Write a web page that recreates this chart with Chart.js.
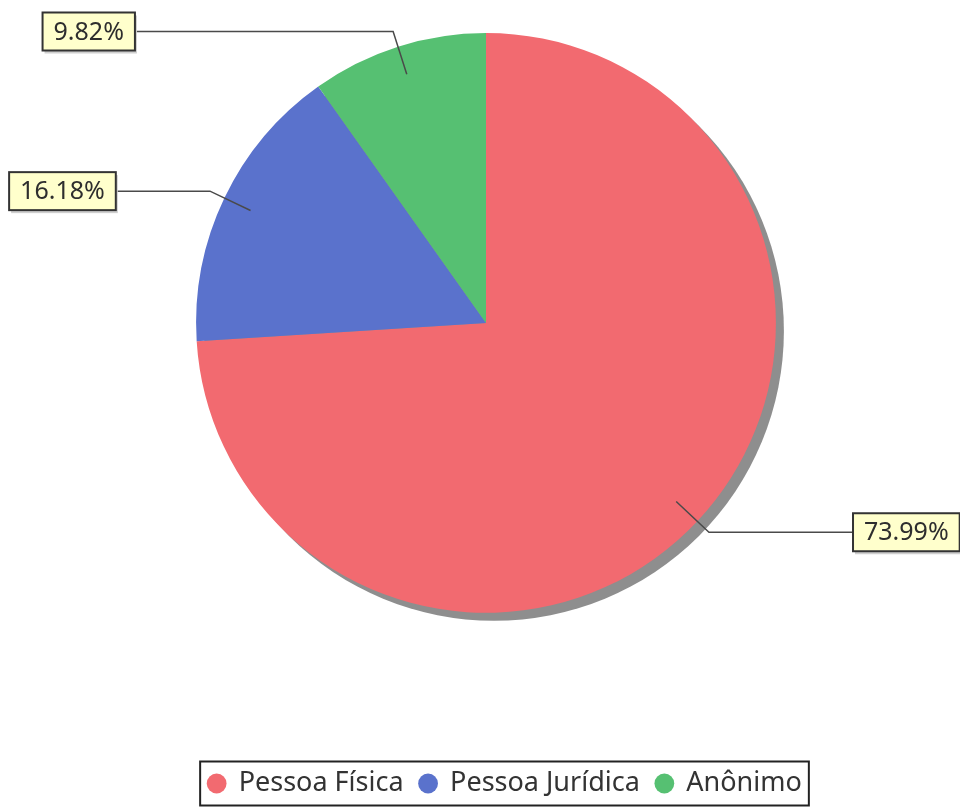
<!DOCTYPE html>
<html lang="pt">
<head>
<meta charset="UTF-8">
<title>Distribuição por tipo de pessoa</title>
<script src="https://cdn.jsdelivr.net/npm/chart.js"></script>
<style>
    body { margin: 0; background: #fff; }
    #chartContainer { width: 960px; height: 810px; }
</style>
</head>
<body>
<div id="chartContainer">
    <canvas id="pieChart" width="960" height="810"></canvas>
</div>
<script>
// data
const categories = ['Pessoa Física', 'Pessoa Jurídica', 'Anônimo'];
const percentages = [73.99, 16.18, 9.82];
const percentLabels = ['73.99%', '16.18%', '9.82%'];

const sliceColors = ['#f26a70', '#5a72cc', '#56c072'];
const fontFamily = '"Noto Sans", "Open Sans", sans-serif';
const labelFont = '25px ' + fontFamily;

// grey drop shadow behind the pie
const shadowPlugin = {
    id: 'pieShadow',
    beforeDatasetsDraw(chart) {
        const arc = chart.getDatasetMeta(0).data[0];
        if (!arc) return;
        const { x, y, outerRadius } = arc.getProps(['x', 'y', 'outerRadius'], true);
        const ctx = chart.ctx;
        ctx.save();
        ctx.fillStyle = '#8e8e8e';
        ctx.beginPath();
        ctx.arc(x + 8, y + 8, outerRadius, 0, Math.PI * 2);
        ctx.fill();
        ctx.restore();
    }
};

// percent boxes with elbow connector lines
const calloutPlugin = {
    id: 'callouts',
    afterDatasetsDraw(chart, args, opts) {
        const ctx = chart.ctx;
        const arcs = chart.getDatasetMeta(0).data;
        ctx.save();
        ctx.font = labelFont;
        arcs.forEach((arc, i) => {
            const p = arc.getProps(['x', 'y', 'startAngle', 'endAngle', 'outerRadius'], true);
            const mid = (p.startAngle + p.endAngle) / 2;
            const c = Math.cos(mid), s = Math.sin(mid);
            const ax = p.x + c * p.outerRadius * 0.9, ay = p.y + s * p.outerRadius * 0.9;
            const ex = p.x + c * p.outerRadius * 1.055, ey = p.y + s * p.outerRadius * 1.055;
            const text = percentLabels[i];
            const w = ctx.measureText(text).width + 22;
            const h = 38;
            const right = c > 0;
            const edge = p.x + (right ? 1 : -1) * p.outerRadius * opts.distance[i];
            const bx = right ? edge : edge - w;
            const by = ey - h / 2;

            ctx.strokeStyle = '#4a4a4a';
            ctx.lineWidth = 1.5;
            ctx.beginPath();
            ctx.moveTo(ax, ay);
            ctx.lineTo(ex, ey);
            ctx.lineTo(right ? bx : bx + w, ey);
            ctx.stroke();

            ctx.fillStyle = '#cfcfcf';
            ctx.fillRect(bx + 2, by + 3, w, h);
            ctx.fillStyle = '#ffffcc';
            ctx.fillRect(bx, by, w, h);
            ctx.strokeStyle = '#333';
            ctx.lineWidth = 2;
            ctx.strokeRect(bx, by, w, h);

            ctx.fillStyle = '#2e2e2e';
            ctx.textAlign = 'center';
            ctx.textBaseline = 'middle';
            ctx.fillText(text, bx + w / 2, by + h / 2 + 1);
        });
        ctx.restore();
    }
};

// shift the legend a little to the right and frame it
const legendShift = 19;
const legendFramePlugin = {
    id: 'legendFrame',
    afterInit(chart) {
        const legend = chart.legend;
        const draw = legend.draw.bind(legend);
        legend.draw = function () {
            chart.ctx.save();
            chart.ctx.translate(legendShift, 0);
            draw();
            chart.ctx.restore();
        };
    },
    afterDraw(chart) {
        const boxes = chart.legend.legendHitBoxes;
        if (!boxes || !boxes.length) return;
        const left = Math.min(...boxes.map(b => b.left)) + legendShift;
        const right = Math.max(...boxes.map(b => b.left + b.width)) + legendShift;
        const cy = boxes[0].top + boxes[0].height / 2;
        const ctx = chart.ctx;
        ctx.save();
        ctx.strokeStyle = '#222';
        ctx.lineWidth = 2;
        ctx.strokeRect(left - 8, cy - 22, right - left + 15, 44);
        ctx.restore();
    }
};

const ctx = document.getElementById('pieChart').getContext('2d');

new Chart(ctx, {
    type: 'pie',
    data: {
        labels: categories,
        datasets: [{
            data: percentages,
            backgroundColor: sliceColors,
            borderWidth: 0
        }]
    },
    plugins: [shadowPlugin, calloutPlugin, legendFramePlugin],
    options: {
        responsive: false,
        animation: false,
        layout: {
            padding: { top: 33, left: 12, right: 0, bottom: 3 }
        },
        plugins: {
            legend: {
                position: 'bottom',
                title: {
                    display: true,
                    text: ' ',
                    color: 'rgba(0,0,0,0)',
                    font: { size: 1 },
                    padding: { top: 140, bottom: 0 }
                },
                labels: {
                    usePointStyle: true,
                    pointStyle: 'circle',
                    boxWidth: 17,
                    boxHeight: 14,
                    padding: 16,
                    color: '#333',
                    font: { family: fontFamily, size: 27 }
                }
            },
            tooltip: { enabled: false },
            callouts: { distance: [1.266, 1.277, 1.211] }
        }
    }
});
</script>
</body>
</html>
